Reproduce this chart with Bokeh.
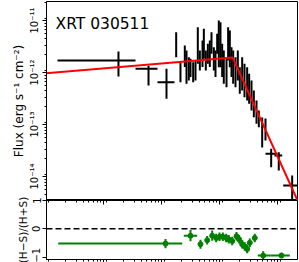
import numpy as np
from bokeh.plotting import figure
from bokeh.layouts import column
from bokeh.models import (ColumnDataSource, LogAxis, LogTicker, FixedTicker, Span,
                          Label, Range1d, CustomJSTickFormatter)
from bokeh.embed import file_html
from bokeh.resources import INLINE

# ---------------- data (log10 time [s], log10 flux [erg/s/cm2]) ----------------
# photon-counting style crosses (with time bins)
pc_logt = [3.253, 3.771, 4.081, 5.886, 6.017, 6.248]
pc_logt_lo = [2.202, 3.547, 3.926, 5.788, 5.943, 6.093]
pc_logt_hi = [3.547, 3.926, 4.219, 5.995, 6.076, 6.334]
pc_logf = [-11.769, -11.929, -12.186, -13.564, -13.596, -14.173]
pc_logf_up = [0.173, 0.060, 0.256, 0.096, 0.064, 0.190]
pc_logf_dn = [0.308, 0.320, 0.320, 0.258, 0.288, 0.290]

# dense windowed-timing style points
wt_logt = [4.248, 4.322, 4.397, 4.426, 4.466, 4.495, 4.541, 4.581, 4.621, 4.656,
           4.702, 4.725, 4.759, 4.794, 4.828, 4.857, 4.897, 4.926, 4.955, 4.983,
           5.012, 5.041, 5.069, 5.116, 5.144, 5.173, 5.202, 5.231, 5.271, 5.311,
           5.345, 5.386, 5.426, 5.472, 5.506, 5.547, 5.587, 5.633, 5.673, 5.731, 5.788]
wt_logf = [-11.465, -11.994, -11.689, -11.897, -11.929, -11.913, -11.994, -11.962, -11.481, -11.769,
           -11.641, -11.449, -11.769, -11.641, -11.641, -11.433, -11.737, -11.833, -11.449, -11.449,
           -11.465, -11.769, -11.897, -11.994, -11.449, -11.545, -11.801, -11.897, -11.994, -11.865,
           -12.154, -12.026, -12.154, -12.218, -12.314, -12.442, -12.603, -12.763, -12.891, -13.154, -13.096]
wt_logf_err = [0.240, 0.192, 0.208, 0.320, 0.224, 0.176, 0.192, 0.192, 0.353, 0.192,
               0.256, 0.288, 0.192, 0.192, 0.256, 0.208, 0.224, 0.256, 0.192, 0.449,
               0.433, 0.320, 0.320, 0.288, 0.320, 0.353, 0.288, 0.320, 0.288, 0.288,
               0.256, 0.320, 0.320, 0.320, 0.288, 0.288, 0.256, 0.224, 0.160, 0.288, 0.212]

# broken power-law model vertices
model_logt = [2.0, 5.219, 6.34]
model_logf = [-12.015, -11.71, -14.46]

# hardness ratio
hr_logt = [4.064, 4.495, 4.667, 4.783, 4.869, 4.938, 4.995, 5.052, 5.110, 5.155,
           5.214, 5.288, 5.334, 5.386, 5.431, 5.472, 5.517, 5.603, 5.748, 6.064]
hr_logt_lo = [2.214, 4.379, 4.647, 4.763, 4.849, 4.918, 4.975, 5.032, 5.090, 5.135,
              5.194, 5.268, 5.314, 5.366, 5.411, 5.452, 5.497, 5.583, 5.655, 5.874]
hr_logt_hi = [4.352, 4.610, 4.687, 4.803, 4.889, 4.958, 5.015, 5.072, 5.130, 5.175,
              5.234, 5.308, 5.354, 5.406, 5.451, 5.492, 5.537, 5.623, 5.874, 6.207]
hr_val = [-0.52, -0.24, -0.54, -0.40, -0.24, -0.32, -0.28, -0.28, -0.32, -0.37,
          -0.43, -0.26, -0.37, -0.54, -0.62, -0.71, -0.49, -0.32, -0.94, -0.94]
hr_err = [0.16, 0.20, 0.16, 0.15, 0.18, 0.15, 0.15, 0.15, 0.15, 0.15,
          0.15, 0.15, 0.15, 0.15, 0.15, 0.15, 0.15, 0.15, 0.15, 0.10]

title_text = "XRT 030511"
flux_label = "Flux (erg s\u207b\u00b9 cm\u207b\u00b2)"
hr_label = "(H\u2212S)/(H+S)"
FONT = "DejaVu Sans"

# ---------------- sources ----------------
def p10(a):
    return 10.0 ** np.asarray(a, dtype=float)

pc = ColumnDataSource(dict(
    t=p10(pc_logt), tlo=p10(pc_logt_lo), thi=p10(pc_logt_hi),
    f=p10(pc_logf), fup=p10(np.array(pc_logf) + np.array(pc_logf_up)),
    fdn=p10(np.array(pc_logf) - np.array(pc_logf_dn))))
wt = ColumnDataSource(dict(
    t=p10(wt_logt), f=p10(wt_logf),
    fup=p10(np.array(wt_logf) + np.array(wt_logf_err)),
    fdn=p10(np.array(wt_logf) - np.array(wt_logf_err))))
model = ColumnDataSource(dict(t=p10(model_logt), f=p10(model_logf)))
hr = ColumnDataSource(dict(
    t=p10(hr_logt), tlo=p10(hr_logt_lo), thi=p10(hr_logt_hi),
    h=hr_val, hup=np.array(hr_val) + np.array(hr_err), hdn=np.array(hr_val) - np.array(hr_err)))

x_range = Range1d(10 ** 2.012, 10 ** 6.34)

sup_js = """
const m = {'-':'\u207b','0':'\u2070','1':'\u00b9','2':'\u00b2','3':'\u00b3','4':'\u2074',
           '5':'\u2075','6':'\u2076','7':'\u2077','8':'\u2078','9':'\u2079'};
const e = Math.round(Math.log10(tick));
return '10' + String(e).split('').map(c => m[c]).join('');
"""

# ---------------- top panel ----------------
p1 = figure(width=299, height=200, x_axis_type="log", y_axis_type="log",
            x_range=x_range, y_range=Range1d(10 ** -14.462, 10 ** -10.635),
            output_backend="svg", toolbar_location=None, x_axis_location=None,
            min_border_left=46, min_border_right=2, min_border_top=1, min_border_bottom=0)
p1.grid.visible = False
p1.outline_line_color = "black"
p1.background_fill_alpha = 0
p1.border_fill_alpha = 0

ya = p1.yaxis[0]
ya.ticker = LogTicker(num_minor_ticks=9)
ya.formatter = CustomJSTickFormatter(code=sup_js)
ya.major_label_orientation = "vertical"
ya.major_label_text_font = FONT
ya.major_label_text_font_size = "10px"
ya.major_label_text_color = "black"
ya.major_label_standoff = 2
ya.major_tick_out = 4
ya.major_tick_in = 0
ya.minor_tick_out = 2
ya.minor_tick_in = 0
ya.axis_line_color = "black"
ya.axis_label = flux_label
ya.axis_label_text_font = FONT
ya.axis_label_text_font_size = "12px"
ya.axis_label_text_font_style = "normal"
ya.axis_label_text_color = "black"
ya.axis_label_standoff = 1

p1.segment(x0="tlo", x1="thi", y0="f", y1="f", source=pc, line_color="black", line_width=2)
p1.segment(x0="t", x1="t", y0="fdn", y1="fup", source=pc, line_color="black", line_width=2)
p1.segment(x0="t", x1="t", y0="fdn", y1="fup", source=wt, line_color="black", line_width=2)
p1.line(x="t", y="f", source=model, line_color="#ff0000", line_width=2)

p1.add_layout(Label(x=147, y=8.7e-12, text=title_text, text_font=FONT,
                    text_font_size="15.5px", text_color="black", text_baseline="middle"))

# ---------------- bottom panel ----------------
OVER = 16
p2 = figure(width=299, height=62 + OVER, x_axis_type="log", x_range=x_range,
            y_range=Range1d(-1.08, 1.0), output_backend="svg", toolbar_location=None,
            min_border_left=46, min_border_right=2, min_border_top=OVER, min_border_bottom=0,
            styles={"margin-top": f"-{OVER}px"})
p2.grid.visible = False
p2.outline_line_color = "black"
p2.background_fill_color = "white"
p2.border_fill_alpha = 0

xb = p2.xaxis[0]
xb.ticker = LogTicker(num_minor_ticks=9)
xb.major_label_text_font_size = "1px"
xb.major_label_text_alpha = 0
xb.major_label_standoff = 0
xb.major_tick_out = 3
xb.major_tick_in = 0
xb.minor_tick_out = 2
xb.minor_tick_in = 0
xb.axis_line_color = "black"

xt = LogAxis(ticker=LogTicker(num_minor_ticks=9))
xt.major_label_text_font_size = "1px"
xt.major_label_text_alpha = 0
xt.major_label_standoff = 0
xt.major_tick_out = 0
xt.major_tick_in = 4
xt.minor_tick_out = 0
xt.minor_tick_in = 2
xt.axis_line_color = "black"
p2.add_layout(xt, "above")

yb = p2.yaxis[0]
yb.ticker = FixedTicker(ticks=[-1, 0, 1], minor_ticks=[])
yb.major_label_overrides = {1: "1", 0: "0", -1: "\u22121"}
yb.major_label_orientation = "vertical"
yb.major_label_text_font = FONT
yb.major_label_text_font_size = "10px"
yb.major_label_text_color = "black"
yb.major_label_standoff = 2
yb.major_tick_out = 4
yb.major_tick_in = 0
yb.axis_line_color = "black"
yb.axis_label = hr_label
yb.axis_label_text_font = FONT
yb.axis_label_text_font_size = "10.5px"
yb.axis_label_text_font_style = "normal"
yb.axis_label_text_color = "black"
yb.axis_label_standoff = 1

p2.add_layout(Span(location=0, dimension="width", line_color="black",
                   line_dash="6 3", line_width=1.5))
p2.segment(x0="tlo", x1="thi", y0="h", y1="h", source=hr, line_color="#008000", line_width=2)
p2.segment(x0="t", x1="t", y0="hdn", y1="hup", source=hr, line_color="#008000", line_width=2)
p2.scatter(x="t", y="h", source=hr, size=5, fill_color="#008000", line_color="#008000")

layout = column(p1, p2, spacing=0)

open("out.html", "w").write(file_html(layout, INLINE))
